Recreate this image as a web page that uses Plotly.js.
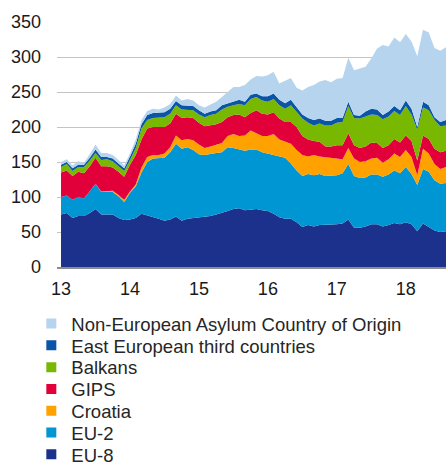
<!DOCTYPE html>
<html>
<head>
<meta charset="utf-8">
<script src="https://cdn.plot.ly/plotly-3.0.1.min.js"></script>
<style>html,body{margin:0;padding:0;background:#fff;}#chart{width:446px;height:467px;}</style>
</head>
<body>
<div id="chart"></div>
<script>
// Monthly categories Jan 2013 – Aug 2018
const startYear = 2013, monthCount = 68;
const months = [];
for (let k = 0; k < monthCount; k++) {
  const y = startYear + Math.floor(k / 12), m = (k % 12) + 1;
  months.push(y + '-' + (m < 10 ? '0' : '') + m);
}
const tickMonths = ['2013-01','2014-01','2015-01','2016-01','2017-01','2018-01'];
const tickLabels = ['13','14','15','16','17','18'];

const eu8 = [75,77,70,73,73,77,83,75,75,75,70,67,68,70,76,74,71,69,66,68,72,66,69,70,70,71,73,75,77,80,83,84,81,82,83,81,80,76,71,69,69,64,57,60,58,60,60,60,61,62,68,56,56,58,61,61,58,60,63,61,64,61,51,62,57,52,50,51];
const eu2 = [25,25,26,27,25,31,36,32,32,32,31,26,38,45,59,76,84,87,90,96,104,103,102,97,91,89,89,88,87,91,87,84,85,86,85,83,82,84,86,87,79,74,73,73,73,73,70,71,70,72,79,74,71,70,71,71,71,72,75,73,79,72,66,78,79,72,69,69];
const croatia = [0,0,0,0,0,0,0,1,2,2,2,3,2,3,7,7,5,4,6,7,12,12,12,14,14,10,10,11,13,16,20,19,22,27,23,23,25,30,25,23,28,29,30,25,29,25,27,26,24,20,23,25,23,23,23,24,20,22,24,23,24,24,14,29,26,23,21,23];
const gips = [35,36,34,36,36,36,37,36,35,33,33,33,38,42,40,41,40,40,38,34,31,32,31,32,31,31,30,30,30,27,27,31,26,25,33,32,31,31,30,28,31,33,27,24,20,21,15,15,19,20,21,19,20,21,23,21,21,20,21,21,21,23,21,19,21,22,24,23];
const balkans = [8,9,7,7,9,8,7,9,10,9,8,8,7,10,16,12,13,13,14,14,12,12,11,11,12,13,15,15,18,15,14,15,17,20,19,19,18,19,19,19,24,21,25,24,22,26,30,30,32,33,39,39,42,43,40,40,41,41,40,39,42,38,44,40,41,41,37,36];
const eastEurope = [3,3,4,3,3,4,5,4,3,4,4,4,5,6,6,7,7,7,7,7,6,6,6,6,6,5,5,5,6,5,6,6,5,6,5,6,8,8,8,8,8,8,6,7,8,7,7,7,7,6,6,4,4,7,8,8,6,7,7,7,8,8,4,8,7,4,6,8];
const nonEurope = [4,4,4,5,3,5,7,6,6,5,5,4,4,6,6,6,6,5,7,7,8,7,9,8,7,9,10,12,12,16,20,18,24,22,25,28,30,31,23,32,31,27,34,44,50,53,58,55,56,57,63,64,67,64,72,87,100,93,98,97,95,96,101,103,104,99,102,104];

const seriesNames = ['EU-8','EU-2','Croatia','GIPS','Balkans','East European third countries','Non-European Asylum Country of Origin'];
const seriesValues = [eu8, eu2, croatia, gips, balkans, eastEurope, nonEurope];
const seriesColors = ['#1b318b','#0096d3','#ffa200','#e2003b','#78b800','#0a55a6','#b7d4ef'];

const traces = [];
seriesValues.forEach((vals, i) => {
  traces.push({
    type: 'scatter', x: months, y: vals, name: seriesNames[i],
    stackgroup: 'one', mode: 'lines', line: {width: 0, color: seriesColors[i]},
    fillcolor: seriesColors[i], showlegend: false, hoverinfo: 'skip'
  });
});

// one legend per entry so rows can sit as tightly as in the original
const legendFont = {size: 18.5, color: '#262626'};
const legendIds = ['legend','legend2','legend3','legend4','legend5','legend6','legend7'];
const layoutLegends = {};
for (let r = 0; r < seriesNames.length; r++) {
  const i = seriesNames.length - 1 - r; // Non-European at top ... EU-8 at bottom
  traces.push({
    type: 'scatter', x: [null], y: [null], name: seriesNames[i], mode: 'markers',
    marker: {symbol: 'square', size: 10, color: seriesColors[i]},
    showlegend: true, legend: legendIds[r]
  });
  layoutLegends[legendIds[r]] = {
    x: -0.066, xanchor: 'left', y: -0.2327 - 0.089 * r, yanchor: 'middle',
    font: legendFont, bgcolor: 'rgba(0,0,0,0)', borderwidth: 0
  };
}

const layout = Object.assign({
  width: 446, height: 467,
  margin: {l: 57, r: 0, t: 22, b: 200, pad: 0, autoexpand: false},
  paper_bgcolor: '#ffffff', plot_bgcolor: '#ffffff',
  font: {family: 'Liberation Sans, Arial, sans-serif', size: 18, color: '#1a1a1a'},
  showlegend: true,
  xaxis: {
    type: 'category', range: [-0.7, 67], tickmode: 'array',
    tickvals: tickMonths, ticktext: tickLabels,
    showgrid: false, zeroline: false, showline: true, linecolor: '#8c8c8c', linewidth: 1.5,
    ticks: '', ticklabelstandoff: 5, fixedrange: true
  },
  yaxis: {
    range: [0, 350], dtick: 50, tick0: 0,
    showgrid: true, gridcolor: '#c4c4c4', gridwidth: 1,
    zeroline: false, showline: false, ticks: '', ticklabelstandoff: 15, fixedrange: true
  }
}, layoutLegends);

Plotly.newPlot('chart', traces, layout, {displayModeBar: false, staticPlot: true});
</script>
</body>
</html>
